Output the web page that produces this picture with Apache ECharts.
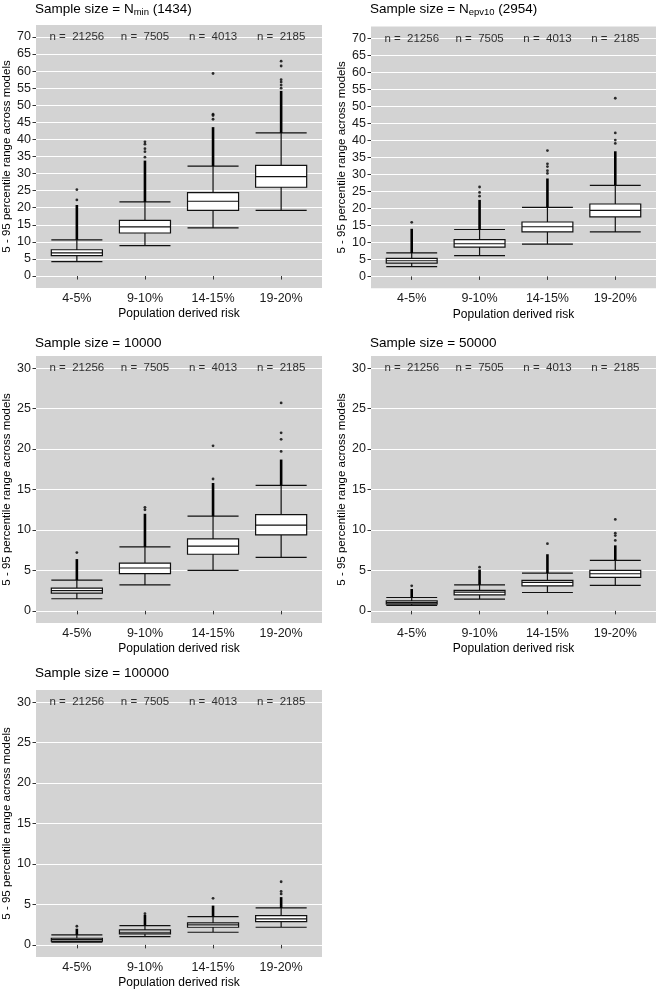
<!DOCTYPE html>
<html>
<head>
<meta charset="utf-8">
<script src="https://cdn.jsdelivr.net/npm/echarts@6/dist/echarts.min.js"></script>
<style>html,body{margin:0;padding:0;background:#fff;}#c{width:658px;height:992px;}</style>
</head>
<body>
<div id="c"></div>
<script>
const categories = ['4-5%', '9-10%', '14-15%', '19-20%'];
const nCounts = [21256, 7505, 4013, 2185];

// Panel 1: N_min (1434)
const p1Lower  = [4.2, 8.9, 14.1, 19.2];
const p1Q1     = [6.0, 12.6, 19.2, 26.0];
const p1Median = [6.8, 14.4, 21.9, 29.1];
const p1Q3     = [7.7, 16.3, 24.4, 32.4];
const p1Upper  = [10.6, 21.7, 32.2, 41.9];
const p1DenseTop = [20.8, 33.8, 43.6, 54.2];
const p1Outliers = [[22.3, 25.3], [34.8, 36.4, 37.3, 38.6, 39.3], [45.9, 47.0, 47.4, 59.3], [55.0, 55.9, 56.8, 57.5, 61.5, 62.9]];

// Panel 2: N_epv10 (2954)
const p2Lower  = [2.9, 6.1, 9.5, 13.1];
const p2Q1     = [3.9, 8.6, 13.1, 17.5];
const p2Median = [4.6, 9.6, 14.6, 19.4];
const p2Q3     = [5.3, 10.8, 16.0, 21.3];
const p2Upper  = [6.9, 13.8, 20.3, 26.8];
const p2DenseTop = [14.0, 22.5, 28.8, 36.8];
const p2Outliers = [[15.9], [23.6, 24.7, 26.3], [30.3, 31.1, 32.3, 33.1, 37.0], [39.1, 40.1, 42.2, 52.4]];

// Panel 3: 10000
const p3Lower  = [1.5, 3.2, 5.0, 6.6];
const p3Q1     = [2.2, 4.6, 7.0, 9.4];
const p3Median = [2.5, 5.3, 8.0, 10.6];
const p3Q3     = [2.8, 5.9, 8.9, 11.9];
const p3Upper  = [3.8, 7.9, 11.7, 15.5];
const p3DenseTop = [6.4, 12.0, 15.8, 18.7];
const p3Outliers = [[7.2], [12.5, 12.8], [16.3, 20.4], [19.7, 21.2, 22.0, 25.7]];

// Panel 4: 50000
const p4Lower  = [0.66, 1.45, 2.27, 3.14];
const p4Q1     = [0.83, 1.98, 3.1, 4.13];
const p4Median = [1.03, 2.31, 3.51, 4.59];
const p4Q3     = [1.24, 2.52, 3.76, 5.0];
const p4Upper  = [1.65, 3.22, 4.67, 6.24];
const p4DenseTop = [2.7, 5.1, 7.0, 8.1];
const p4Outliers = [[3.1], [5.4], [8.3], [8.7, 9.3, 9.6, 11.3]];

// Panel 5: 100000
const p5Lower  = [0.35, 1.03, 1.56, 2.18];
const p5Q1     = [0.45, 1.36, 2.18, 2.88];
const p5Median = [0.66, 1.56, 2.47, 3.2];
const p5Q3     = [0.82, 1.85, 2.71, 3.62];
const p5Upper  = [1.23, 2.38, 3.5, 4.56];
const p5DenseTop = [2.0, 3.7, 4.85, 5.9];
const p5Outliers = [[2.3], [3.85], [5.75], [6.3, 6.6, 7.8]];

const ticksLarge = [0, 5, 10, 15, 20, 25, 30, 35, 40, 45, 50, 55, 60, 65, 70];
const ticksSmall = [0, 5, 10, 15, 20, 25, 30];

const FONT = 'Liberation Sans, Arial, Helvetica, sans-serif';
const TXT = '#1a1a1a';

const panels = [
  {title: 'Sample size = N{sub|min} (1434)', lower: p1Lower, q1: p1Q1, med: p1Median, q3: p1Q3, up: p1Upper, dense: p1DenseTop, out: p1Outliers,
   ymin: -3.5, ymax: 73.5, ticks: ticksLarge, nY: 70, box: {left: 36, top: 25, width: 286, height: 263}, titleTop: 0, nameGap: 22},
  {title: 'Sample size = N{sub|epv10} (2954)', lower: p2Lower, q1: p2Q1, med: p2Median, q3: p2Q3, up: p2Upper, dense: p2DenseTop, out: p2Outliers,
   ymin: -3.5, ymax: 73.5, ticks: ticksLarge, nY: 70, box: {left: 371, top: 26.5, width: 285, height: 261.8}, titleTop: 0.5, nameGap: 23},
  {title: 'Sample size = 10000', lower: p3Lower, q1: p3Q1, med: p3Median, q3: p3Q3, up: p3Upper, dense: p3DenseTop, out: p3Outliers,
   ymin: -1.5, ymax: 31.5, ticks: ticksSmall, nY: 30, box: {left: 36, top: 356, width: 286, height: 267}, titleTop: 334, nameGap: 22},
  {title: 'Sample size = 50000', lower: p4Lower, q1: p4Q1, med: p4Median, q3: p4Q3, up: p4Upper, dense: p4DenseTop, out: p4Outliers,
   ymin: -1.5, ymax: 31.5, ticks: ticksSmall, nY: 30, box: {left: 371, top: 356, width: 285, height: 267}, titleTop: 334, nameGap: 23},
  {title: 'Sample size = 100000', lower: p5Lower, q1: p5Q1, med: p5Median, q3: p5Q3, up: p5Upper, dense: p5DenseTop, out: p5Outliers,
   ymin: -1.5, ymax: 31.5, ticks: ticksSmall, nY: 30, box: {left: 36, top: 690, width: 286, height: 267}, titleTop: 664, nameGap: 22}
];

const option = {animation: false, backgroundColor: '#fff', title: [], grid: [], xAxis: [], yAxis: [], series: []};

panels.forEach((p, k) => {
  const b = p.box;
  const bg = 2 * k, fg = 2 * k + 1;
  option.title.push({
    text: p.title, left: b.left - 1, top: p.titleTop, padding: 0,
    textStyle: {fontFamily: FONT, fontSize: 13.5, fontWeight: 'normal', color: '#000', lineHeight: 18, verticalAlign: 'middle',
      rich: {sub: {fontFamily: FONT, fontSize: 9.5, color: '#000', lineHeight: 18, verticalAlign: 'bottom', padding: [0, 0, 1, 0]}}}
  });
  option.grid.push({left: b.left, top: b.top, width: b.width, height: b.height, show: true, backgroundColor: '#d3d3d3', borderWidth: 0, containLabel: false});
  const fl = b.left + b.width * 0.1 / 4.2, fw = b.width * 4 / 4.2;
  option.grid.push({left: fl, top: b.top, width: fw, height: b.height, show: false, containLabel: false});

  option.xAxis.push({gridIndex: bg, type: 'value', min: 0, max: 1, show: false});
  option.xAxis.push({
    gridIndex: fg, type: 'category', data: categories, boundaryGap: true,
    axisLine: {show: false},
    axisTick: {show: true, alignWithLabel: true, length: 3.5, lineStyle: {color: '#333', width: 1}},
    axisLabel: {fontFamily: FONT, fontSize: 12.5, color: TXT, margin: 4},
    splitLine: {show: false},
    name: 'Population derived risk', nameLocation: 'middle', nameGap: 20,
    nameTextStyle: {fontFamily: FONT, fontSize: 12, color: '#000'}
  });
  option.yAxis.push({
    gridIndex: bg, type: 'value', min: p.ymin, max: p.ymax,
    axisLine: {show: false},
    axisTick: {show: true, length: 3.5, customValues: p.ticks, lineStyle: {color: '#333', width: 1}},
    axisLabel: {fontFamily: FONT, fontSize: 12.5, color: TXT, margin: 5, customValues: p.ticks, showMinLabel: true, showMaxLabel: true},
    splitLine: {show: true, lineStyle: {color: '#ffffff', width: 1.1}},
    name: '5 - 95 percentile range across models', nameLocation: 'middle', nameRotate: 90, nameGap: p.nameGap,
    nameTextStyle: {fontFamily: FONT, fontSize: 11.5, color: '#000'}
  });
  option.yAxis.push({gridIndex: fg, type: 'value', min: p.ymin, max: p.ymax, show: false, splitLine: {show: false}});

  const boxData = categories.map((c, i) => [p.lower[i], p.q1[i], p.med[i], p.q3[i], p.up[i]]);
  option.series.push({
    type: 'boxplot', xAxisIndex: fg, yAxisIndex: fg, data: boxData, boxWidth: ['75%', '75%'],
    itemStyle: {color: '#ffffff', borderColor: '#111', borderWidth: 1.2}, z: 3
  });
  option.series.push({
    type: 'custom', xAxisIndex: fg, yAxisIndex: fg, z: 4,
    data: categories.map((c, i) => [i, p.up[i], p.dense[i]]),
    encode: {x: 0, y: [1, 2]},
    renderItem: (params, api) => {
      const a = api.coord([api.value(0), api.value(1)]);
      const t = api.coord([api.value(0), api.value(2)]);
      return {type: 'rect', shape: {x: a[0] - 1.3, y: t[1], width: 2.6, height: a[1] - t[1]}, style: {fill: '#000'}};
    }
  });
  const outPts = [];
  p.out.forEach((arr, i) => arr.forEach(v => outPts.push([i, v])));
  option.series.push({
    type: 'scatter', xAxisIndex: fg, yAxisIndex: fg, data: outPts, symbol: 'circle', symbolSize: 2.8,
    itemStyle: {color: '#000'}, z: 4
  });
  option.series.push({
    type: 'scatter', xAxisIndex: fg, yAxisIndex: fg, symbolSize: 0, z: 5,
    data: categories.map((c, i) => [i, p.nY, nCounts[i]]),
    label: {show: true, position: 'inside', fontFamily: FONT, fontSize: 11.5, color: '#000',
      formatter: (d) => 'n =  ' + d.value[2]}
  });
});

const chart = echarts.init(document.getElementById('c'), null, {renderer: 'canvas'});
chart.setOption(option);
</script>
</body>
</html>
